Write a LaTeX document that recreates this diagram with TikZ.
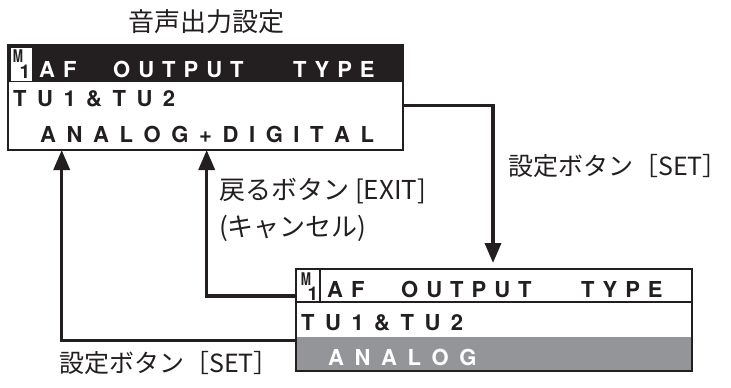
\documentclass[tikz,border=0pt]{standalone}
\usepackage{fontspec}
\newfontfamily\cjk{Noto Sans CJK JP}
\newfontfamily\lcd{TeX Gyre Heros}
\usetikzlibrary{arrows.meta}
\definecolor{ink}{HTML}{231F20}
\definecolor{lcdgray}{HTML}{939598}
\newlength\trackamt
\def\trackloop#1{\ifx#1\relax\else#1\kern\trackamt\expandafter\trackloop\fi}
\newcommand\tracked[2]{\setlength\trackamt{#1}\trackloop#2\relax}
\tikzset{
  lcdtext/.style={font=\lcd\bfseries\fontsize{22}{22}\selectfont, anchor=base west, inner sep=0pt},
  lbl/.style={font=\cjk\fontsize{26}{26}\selectfont, inner sep=0pt, text=ink},
  lblset/.style={lbl, font=\cjk\fontsize{25}{25}\selectfont},
  lcdbox/.style={draw=ink, line width=2pt, inner sep=0pt, outer sep=0pt, anchor=north west},
  conn/.style={draw=ink, line width=3.5pt},
  contip/.style={-{Triangle[length=20pt,width=16pt]}},
  iconM/.style={font=\lcd\bfseries\fontsize{17.5}{17.5}\selectfont, inner sep=0pt},
  icon1/.style={font=\lcd\bfseries\fontsize{19}{19}\selectfont, inner sep=0pt}
}
\begin{document}
\begin{tikzpicture}[x=1pt,y=-1pt]
\useasboundingbox (0,0) rectangle (731,388);
% ---------- top box ----------
\fill[ink] (8,45) rectangle (403,82);
\fill[white] (10.5,47.5) rectangle (32,80.5);
\node[lcdbox, minimum width=395pt, minimum height=105pt] (topbox) at (8,45) {};
\node[iconM, text=ink] (tm) at (18,56) {\scalebox{0.7}[1]{M}};
\node[icon1, text=ink] (t1) at (25,71.5) {1};
\node[lcdtext, text=white] (taf) at (39,77) {\tracked{8pt}{AF}};
\node[lcdtext, text=white] (tout) at (113,77) {\tracked{8pt}{OUTPUT}};
\node[lcdtext, text=white] (ttype) at (293,77) {\tracked{8pt}{TYPE}};
\node[lcdtext, text=ink] (ttu) at (13,106) {\tracked{10.5pt}{TU1\&TU2}};
\node[lcdtext, text=ink] (tana) at (40,142) {\tracked{10.6pt}{ANALOG+DIGITAL}};
% ---------- bottom box ----------
\fill[lcdgray] (296,337) rectangle (692,371);
\node[lcdbox, minimum width=396pt, minimum height=102pt] (botbox) at (296,269) {};
\draw[ink, line width=1.5pt] (296,302) -- (692,302);
\draw[ink, line width=1.5pt] (320,269) -- (320,302);
\node[iconM, text=ink] (bm) at (306,279) {\scalebox{0.7}[1]{M}};
\node[icon1, text=ink] (b1) at (313,293.5) {1};
\node[lcdtext, text=ink] (baf) at (327,297) {\tracked{8pt}{AF}};
\node[lcdtext, text=ink] (bout) at (401,297) {\tracked{8pt}{OUTPUT}};
\node[lcdtext, text=ink] (btype) at (581,297) {\tracked{8pt}{TYPE}};
\node[lcdtext, text=ink] (btu) at (301,330) {\tracked{10.5pt}{TU1\&TU2}};
\node[lcdtext, text=white] (bana) at (328,365) {\tracked{10.6pt}{ANALOG}};
% ---------- connectors ----------
\path (topbox.north east) ++(0,60.7) coordinate (r1);
\path (botbox.north west) ++(197,-6) coordinate (r2);
\path (botbox.north west) ++(0,27) coordinate (l1s);
\path (topbox.south west) ++(198.7,0) coordinate (l1e);
\path (botbox.north west) ++(0,71.5) coordinate (l2s);
\path (topbox.south west) ++(53.7,0) coordinate (l2e);
\draw[conn, contip] (r1) -| (r2);
\draw[conn, contip] (l1s) -| (l1e);
\draw[conn, contip] (l2s) -| (l2e);
% ---------- labels ----------
\node[lbl] (title) at (206,22) {音声出力設定};
\node[lblset, anchor=west] (set1) at (508,166) {設定ボタン［SET\makebox[0.5em][l]{］}};
\node[lbl, anchor=west] (exit) at (219,191) {戻るボタン [EXIT]};
\node[lbl, anchor=west] (cancel) at (219,228) {(キャンセル)};
\node[lblset, anchor=west] (set2) at (59,363) {設定ボタン［SET\makebox[0.5em][l]{］}};
\end{tikzpicture}
\end{document}
